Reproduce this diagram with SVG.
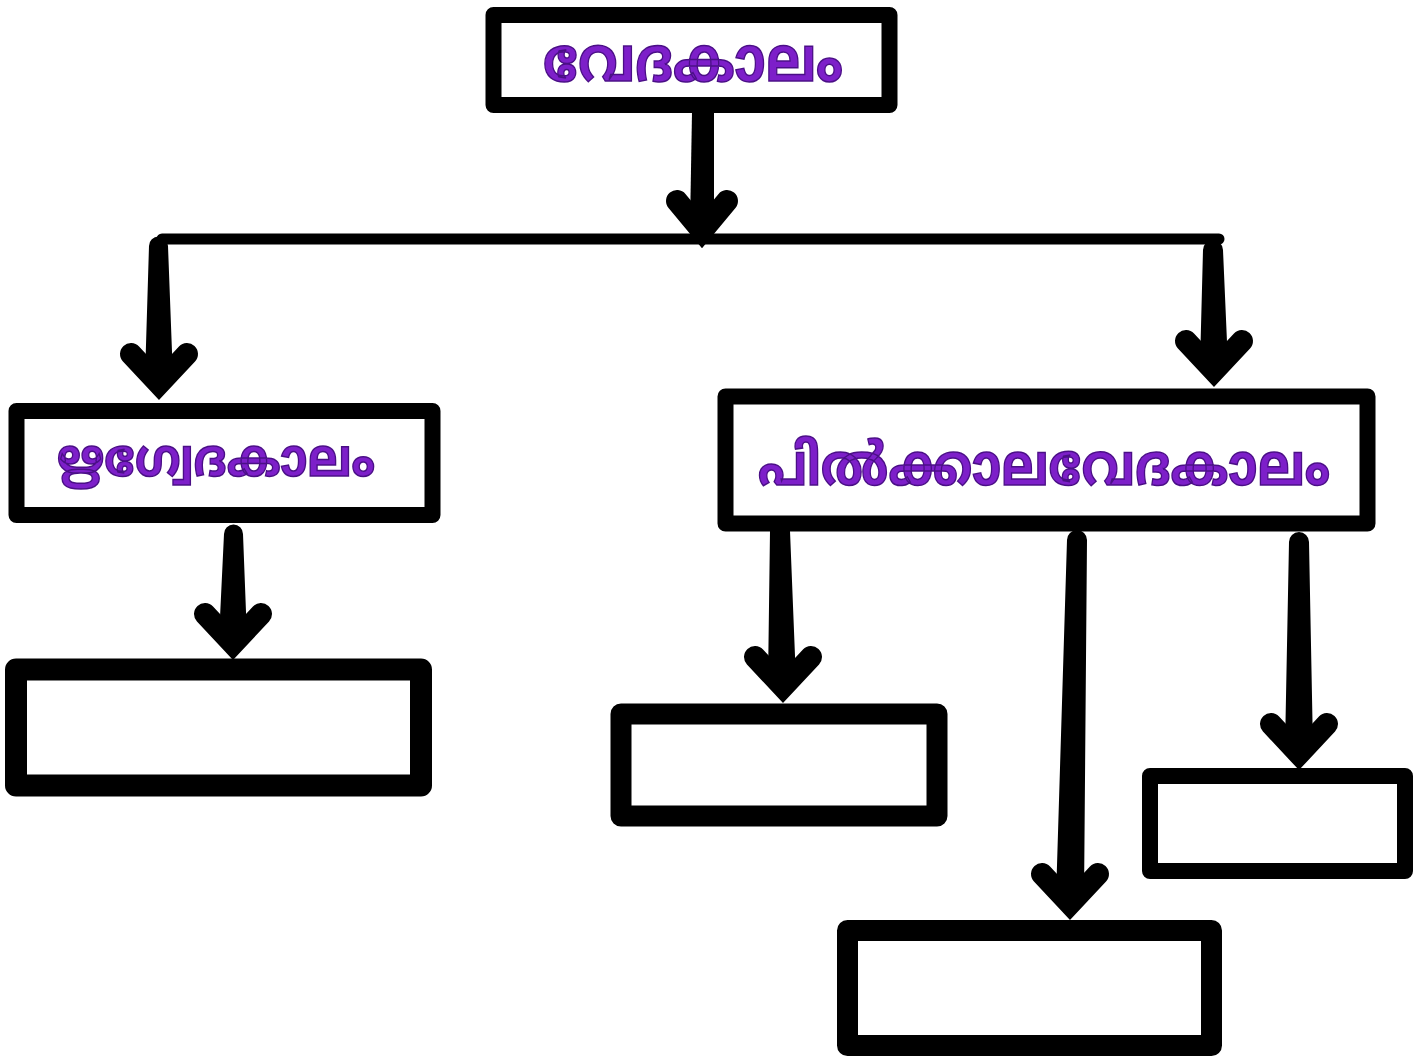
<svg xmlns="http://www.w3.org/2000/svg" width="1423" height="1059" viewBox="0 0 1423 1059">
<style>
.box{fill:#fff;stroke:#000;stroke-linejoin:round}
.lbl{font-family:"Noto Sans Malayalam","Noto Sans","DejaVu Sans",sans-serif;font-weight:bold;fill:#7d1fc9;stroke:#4a0f86;stroke-width:1.5;text-anchor:middle}
.shaft{fill:#000}
.head{fill:none;stroke:#000;stroke-width:22;stroke-linecap:round;stroke-linejoin:miter;stroke-miterlimit:10}
.hline{fill:none;stroke:#000;stroke-width:11;stroke-linecap:round}
</style>
<rect width="1423" height="1059" fill="#fff"/>
<g id="connectors">
  <line class="hline" x1="162" y1="239" x2="1219" y2="239"/>
  <g id="a-top">
    <path class="shaft" d="M692,112 L714,112 L714,226 L690,226 Z"/>
    <polyline class="head" points="677,201 702,231 727,201"/>
  </g>
  <g id="a-left">
    <path class="shaft" d="M149,246 A9.5,9.5 0 0 1 168,246 L173,378 L145,378 Z"/>
    <polyline class="head" points="131,354 159,384 187,354"/>
  </g>
  <g id="a-right">
    <path class="shaft" d="M1203,250 A10,10 0 0 1 1223,250 L1228,365 L1200,365 Z"/>
    <polyline class="head" points="1186,341 1214,371 1242,341"/>
  </g>
  <g id="a-rig">
    <path class="shaft" d="M224,534 A9.5,9.5 0 0 1 243,534 L247,638 L219,638 Z"/>
    <polyline class="head" points="205,614 233,644 261,614"/>
  </g>
  <g id="a-b1">
    <path class="shaft" d="M770,531 A10,10 0 0 1 790,531 L796,681 L768,681 Z"/>
    <polyline class="head" points="755,657 783,687 811,657"/>
  </g>
  <g id="a-b2">
    <path class="shaft" d="M1067,540 A10,10 0 0 1 1087,540 L1084,898 L1056,898 Z"/>
    <polyline class="head" points="1042,874 1070,904 1098,874"/>
  </g>
  <g id="a-b3">
    <path class="shaft" d="M1289,542 A10,10 0 0 1 1309,542 L1313,748 L1285,748 Z"/>
    <polyline class="head" points="1271,724 1299,754 1327,724"/>
  </g>
</g>
<g id="n-vedakalam">
  <rect class="box" x="493.5" y="15" width="396" height="90" stroke-width="16"/>
  <text class="lbl" x="693" y="81" font-size="62" textLength="300" lengthAdjust="spacingAndGlyphs">വേദകാലം</text>
</g>
<g id="n-rigveda">
  <rect class="box" x="16.5" y="411" width="416" height="104" stroke-width="16"/>
  <text class="lbl" x="216" y="476" font-size="52" textLength="318" lengthAdjust="spacingAndGlyphs">ഋഗ്വേദകാലം</text>
</g>
<g id="n-later">
  <rect class="box" x="725.5" y="396.5" width="642" height="127" stroke-width="16"/>
  <text class="lbl" x="1044" y="485" font-size="58" textLength="572" lengthAdjust="spacingAndGlyphs">പിൽക്കാലവേദകാലം</text>
</g>
<g id="n-b0">
  <rect class="box" x="16" y="669.5" width="405" height="116" stroke-width="22"/>
</g>
<g id="n-b1">
  <rect class="box" x="621" y="714" width="316" height="102" stroke-width="21"/>
</g>
<g id="n-b2">
  <rect class="box" x="847.5" y="930.5" width="364" height="115" stroke-width="21"/>
</g>
<g id="n-b3">
  <rect class="box" x="1150" y="776" width="255" height="95" stroke-width="16"/>
</g>
</svg>
